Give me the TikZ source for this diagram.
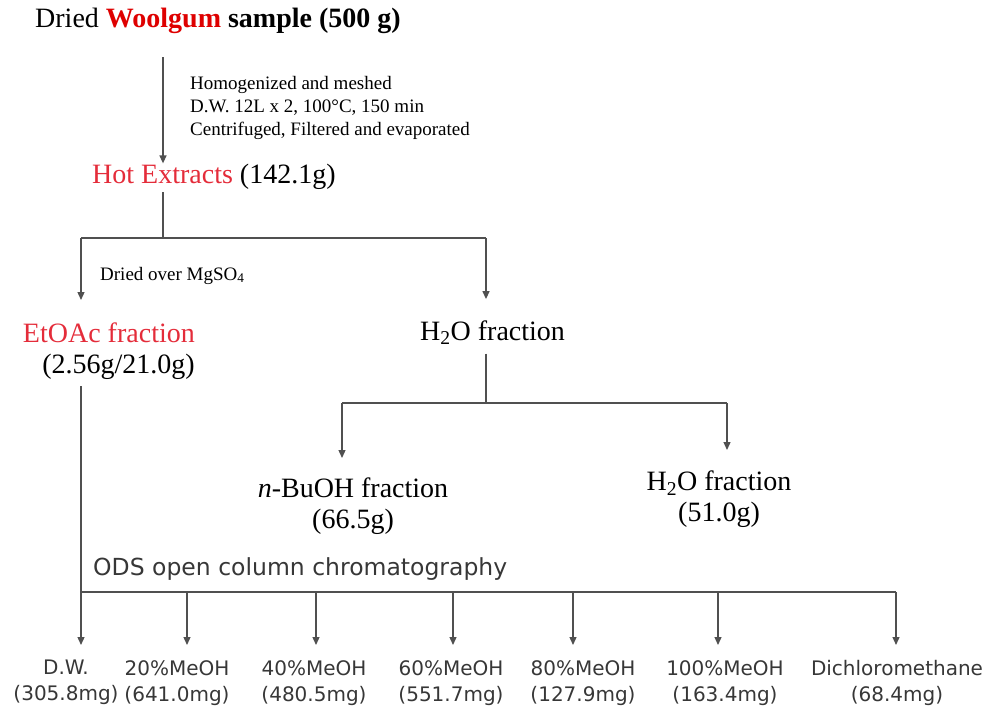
\documentclass[tikz,border=0pt]{standalone}
\usepackage{fontspec}
\setmainfont{Liberation Serif}
\newfontfamily\labfont{DejaVu Sans}
\usetikzlibrary{arrows.meta}
\definecolor{woolred}{RGB}{222,0,0}
\definecolor{fracred}{RGB}{228,44,58}
\definecolor{flowgray}{RGB}{80,80,80}
\definecolor{labgray}{RGB}{55,55,55}
\begin{document}
\begin{tikzpicture}[x=1pt,y=-1pt,
	flow/.style={draw=flowgray,line width=1.3pt},
	arr/.style={flow,-{Triangle[length=8pt,width=7pt]}},
	big/.style={inner sep=0pt,font=\fontsize{28}{31}\selectfont},
	note/.style={inner sep=0pt,align=left,font=\fontsize{19}{23}\selectfont},
	lab/.style={inner sep=0pt,align=center,text=labgray,font=\labfont\fontsize{20}{26}\selectfont}]
	\useasboundingbox (0,0) rectangle (992,709);
	\node[big,anchor=base west] (sample) at (35,28) {Dried \textbf{\textcolor{woolred}{Woolgum} sample (500 g)}};
	\node[note,anchor=north west] (cond) at (190,76) {Homogenized and meshed\\D.W. 12L x 2, 100°C, 150 min\\Centrifuged, Filtered and evaporated};
	\node[big,anchor=base west] (hot) at (92,183) {\textcolor{fracred}{Hot Extracts} (142.1g)};
	\node[note,anchor=base west] (dry) at (100,280) {Dried over MgSO\textsubscript{4}};
	\node[big,anchor=north east,align=right] (etoac) at (195,323) {\textcolor{fracred}{EtOAc fraction}\\(2.56g/21.0g)};
	\node[big,anchor=base west] (h2o) at (420,340) {H\textsubscript{2}O fraction};
	\node[big,anchor=north,align=center] (buoh) at (353,478) {\textit{n}-BuOH fraction\\(66.5g)};
	\node[big,anchor=north,align=center] (wat) at (719,471) {H\textsubscript{2}O fraction\\(51.0g)};
	\node[anchor=base west,inner sep=0pt,font=\labfont\fontsize{23.5}{26}\selectfont,text=labgray] (ods) at (93,575) {ODS open column chromatography};

	\coordinate (hx) at (163,238);
	\coordinate (lx) at (81,238);
	\coordinate (rx) at (486,238);
	\draw[arr] ([yshift=-23pt]sample.south -| hx) -- (hot.north -| hx);
	\draw[flow] ([yshift=-3pt]hot.south -| hx) -- (hx);
	\draw[flow] (lx) -- (rx);
	\draw[arr,shorten >=23pt] (lx) -- (lx |- etoac.north);
	\draw[arr,shorten >=21pt] (rx) -- (rx |- h2o.north);

	\coordinate (mx) at (486,403);
	\coordinate (bl) at (342,403);
	\coordinate (br) at (727,403);
	\draw[flow] ([yshift=-9pt]h2o.south -| mx) -- (mx);
	\draw[flow] (bl) -- (br);
	\draw[arr,shorten >=20pt] (bl) -- (bl |- buoh.north);
	\draw[arr,shorten >=21pt] (br) -- (br |- wat.north);

	\coordinate (ex) at (81,592);
	\draw[flow] ([yshift=-6pt]etoac.south -| ex) -- (ex);
	\foreach \ax/\lx/\fname/\famt [count=\i] in {81/66/D.W./305.8, 187/177/20\%MeOH/641.0, 316/314/40\%MeOH/480.5,
		453/451/60\%MeOH/551.7, 573/583/80\%MeOH/127.9, 718/725/100\%MeOH/163.4, 896/897/Dichloromethane/68.4}
	{
		\coordinate (b\i) at (\ax,592);
		\node[lab,anchor=north] (f\i) at (\lx,660) {\fname\\(\famt mg)};
		\draw[arr,shorten >=15pt] (b\i) -- (b\i |- f\i.north);
	}
	\draw[flow] (b1) -- (b7);
\end{tikzpicture}
\end{document}
